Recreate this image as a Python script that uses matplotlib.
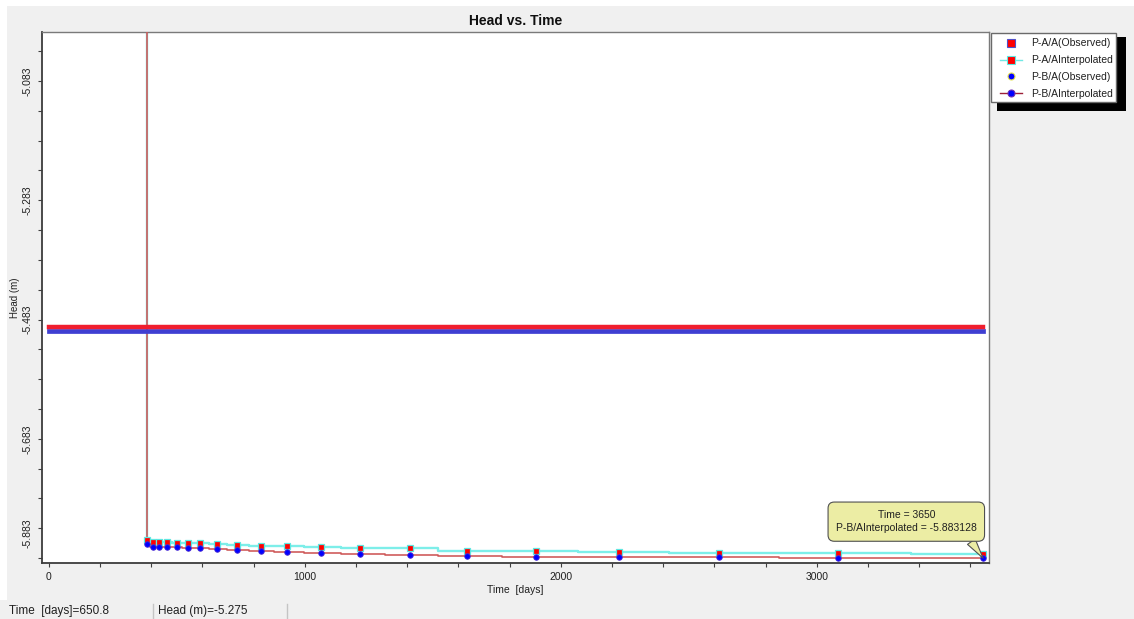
import matplotlib
matplotlib.use("Agg")
import matplotlib.pyplot as plt
from matplotlib.lines import Line2D
from matplotlib.patches import Rectangle
from matplotlib.ticker import FixedLocator, NullFormatter
from matplotlib.transforms import ScaledTranslation

plt.rcParams["font.family"] = ["Liberation Sans", "DejaVu Sans"]

# ---- data -------------------------------------------------------------
time_days = [383, 407, 431, 461, 500, 543, 592, 656, 734, 827, 931, 1062,
             1217, 1409, 1632, 1905, 2227, 2619, 3084, 3650]
head_pa_interp = [-5.8518, -5.8555, -5.8555, -5.8555, -5.8571, -5.8582,
                  -5.8582, -5.8593, -5.8610, -5.8624, -5.8624, -5.8639,
                  -5.8666, -5.8666, -5.8706, -5.8706, -5.8723, -5.8739,
                  -5.8749, -5.8761]
head_pb_interp = [-5.8598, -5.8639, -5.8639, -5.8639, -5.8649, -5.8655,
                  -5.8661, -5.8677, -5.8694, -5.8706, -5.8733, -5.8749,
                  -5.8761, -5.8773, -5.8790, -5.8807, -5.8817, -5.8817,
                  -5.8829, -5.883128]
# head before the first interpolated time (above the plotted range)
head_start = -4.0

obs_time = [0, 3650]
head_pa_obs = [-5.4954, -5.4954]
head_pb_obs = [-5.5029, -5.5029]

x_major = [0, 1000, 2000, 3000]
x_minor = [200, 400, 600, 800, 1200, 1400, 1600, 1800, 2200, 2400, 2600,
           2800, 3200, 3400, 3600]
y_major = [-5.083, -5.283, -5.483, -5.683, -5.883]
y_major_labels = ["-5.083", "-5.283", "-5.483", "-5.683", "-5.883"]
y_minor = [-5.033, -5.133, -5.183, -5.233, -5.333, -5.383, -5.433, -5.533,
           -5.583, -5.633, -5.733, -5.783, -5.833]

legend_labels = ["P-A/A(Observed)", "P-A/AInterpolated",
                 "P-B/A(Observed)", "P-B/AInterpolated"]
tip_time = 3650
tip_head = -5.883128
status_time = "Time  [days]=650.8"
status_head = "Head (m)=-5.275"

# ---- figure -----------------------------------------------------------
W, H = 1134, 619
fig = plt.figure(figsize=(W / 100, H / 100), dpi=100)
fig.patch.set_facecolor("#f0f0f0")


def fx(px):
    return px / W


def fy(py):
    return 1 - py / H


# white window border (top and left)
fig.add_artist(Rectangle((0, fy(6)), 1, 6 / H, transform=fig.transFigure,
                         fc="white", ec="none", zorder=0))
fig.add_artist(Rectangle((0, fy(600)), 7 / W, 594 / H, transform=fig.transFigure,
                         fc="white", ec="none", zorder=0))

ax = fig.add_axes([fx(42), fy(563.3), (989 - 42) / W, (563.3 - 31.5) / H])
ax.set_facecolor("white")

# interpolated series (stepped lines)
ax.plot([time_days[0]] + time_days, [head_start] + head_pa_interp,
        drawstyle="steps-mid", color="#7deee9", lw=1.7, zorder=2)
ax.plot(time_days, head_pa_interp, ls="none", marker="s", ms=4.6,
        mfc="#ff0000", mec="#5ee8e2", mew=0.9, zorder=4)
ax.plot([time_days[0]] + time_days, [head_start] + head_pb_interp,
        drawstyle="steps-mid", color="#cf5c5c", lw=1.2, zorder=3)
ax.plot(time_days, head_pb_interp, ls="none", marker="o", ms=4.0,
        mfc="#0000ff", mec="#4a2ad0", mew=0.6, zorder=5)

# observed levels
ax.plot(obs_time, head_pb_obs, color="#3f3fd2", lw=3.4,
        solid_capstyle="projecting", zorder=6)
ax.plot(obs_time, head_pa_obs, color="#f01e2e", lw=3.2,
        solid_capstyle="projecting", zorder=6)

ax.set_xlim(-27, 3673)
ax.set_ylim(-5.8917, -5.0)

ax.xaxis.set_major_locator(FixedLocator(x_major))
ax.xaxis.set_minor_locator(FixedLocator(x_minor))
ax.set_xticklabels([str(v) for v in x_major])
ax.xaxis.set_minor_formatter(NullFormatter())
ax.yaxis.set_major_locator(FixedLocator(y_major))
ax.yaxis.set_minor_locator(FixedLocator(y_minor))
ax.yaxis.set_minor_formatter(NullFormatter())
ax.set_yticklabels(y_major_labels, rotation=90, va="center")

ax.tick_params(which="both", direction="out", length=3.2, width=0.8,
               color="#404040", labelsize=7.5, labelcolor="#202020")
ax.tick_params(axis="x", which="major", pad=3)
ax.tick_params(axis="y", which="major", pad=3.5)

for side in ["left", "bottom"]:
    ax.spines[side].set_color("#3c3c3c")
    ax.spines[side].set_linewidth(1.3)
for side in ["top", "right"]:
    ax.spines[side].set_color("#7a7a7a")
    ax.spines[side].set_linewidth(1.0)

ax.set_title("Head vs. Time", fontsize=10, fontweight="bold", pad=4.5,
             color="#101010")
ax.set_xlabel("Time  [days]", fontsize=7.5, labelpad=2, color="#202020")
ax.set_ylabel("Head (m)", fontsize=7, labelpad=2, color="#202020")

# lowest label sits above its tick
last = ax.yaxis.get_major_ticks()[-1].label1
last.set_va("bottom")
last.set_transform(last.get_transform() + ScaledTranslation(0, 10 / 100, fig.dpi_scale_trans))

# tooltip on the last point
ax.annotate(f"Time = {tip_time}\nP-B/AInterpolated = {tip_head}",
            xy=(tip_time, tip_head), xytext=(-55.3, 26.3),
            textcoords="offset points", ha="center", va="center",
            fontsize=7.5, color="#202020", linespacing=1.45,
            bbox=dict(boxstyle="round,pad=0.75,rounding_size=0.6",
                      fc="#ecedA4", ec="#505050", lw=0.8),
            arrowprops=dict(arrowstyle="wedge,tail_width=0.9,shrink_factor=0.5",
                            fc="#ecedA4", ec="#505050", lw=0.8,
                            relpos=(0.92, 0.0), shrinkA=0, shrinkB=0),
            zorder=10, annotation_clip=False)

# legend box with a hard shadow
fig.add_artist(Rectangle((fx(997), fy(111)), 129 / W, 74 / H,
                         transform=fig.transFigure, fc="black", ec="none", zorder=3))
fig.add_artist(Rectangle((fx(991), fy(101.7)), 125 / W, 68.4 / H,
                         transform=fig.transFigure, fc="white", ec="#6a6a6a",
                         lw=1.0, zorder=4))

handles = [
    Line2D([], [], ls="none", marker="s", ms=5.3, mfc="#ff0000", mec="#5050c8", mew=0.8),
    Line2D([], [], color="#6fe8e4", lw=1.0, marker="s", ms=5.3, mfc="#ff0000",
           mec="#5ee8e2", mew=0.8),
    Line2D([], [], ls="none", marker="o", ms=5.0, mfc="#0000ff", mec="#e4e050", mew=0.8),
    Line2D([], [], color="#9c2038", lw=1.0, marker="o", ms=5.0, mfc="#0000ff",
           mec="#7030b0", mew=0.8),
]
leg = fig.legend(handles, legend_labels, loc="upper left",
                 bbox_to_anchor=(fx(1000), fy(38.5)), frameon=False,
                 fontsize=7.5, handlelength=2.1, handletextpad=0.85,
                 labelspacing=0.65, borderpad=0, borderaxespad=0)
leg.set_zorder(6)
for t in leg.get_texts():
    t.set_color("#202020")

# status bar
fig.text(fx(9), fy(611), status_time, fontsize=8.5, va="center", ha="left",
         color="#202020")
fig.text(fx(158), fy(611), status_head, fontsize=8.5, va="center", ha="left",
         color="#202020")
for xs in (153, 287):
    fig.add_artist(Line2D([fx(xs), fx(xs)], [fy(619), fy(604)],
                          transform=fig.transFigure, color="#c4c4c4", lw=1))

fig.savefig("out.png", dpi=100, facecolor=fig.get_facecolor())
